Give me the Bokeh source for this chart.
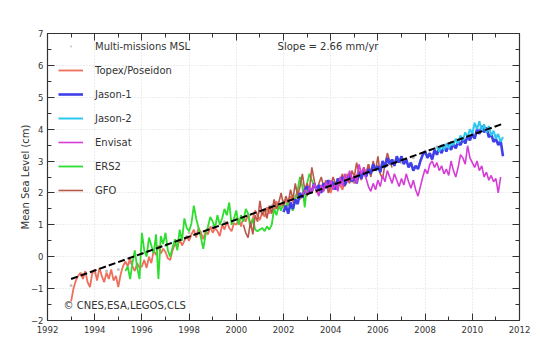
import numpy as np
from bokeh.plotting import figure
from bokeh.models import (Range1d, SingleIntervalTicker, LinearAxis, Legend, LegendItem, Label,
                          CustomJSTickFormatter)
from bokeh.embed import file_html
from bokeh.resources import INLINE

STEP = 0.1

topex_start = 1993.0
topex = [-1.40, -1.0, -0.75, -0.6, -0.5, -0.7, -0.45, -0.8, -0.95, -0.5,
         -0.4, -0.75, -0.35, -0.6, -0.8, -0.5, -0.7, -0.4, -0.75, -0.6,
         -0.95, -0.55, -0.3, -0.15, -0.3, -0.05, -0.3, -0.45, -0.2, -0.35,
         -0.3, -0.1, -0.35, 0.0, -0.2, 0.2, 0.05, 0.35, 0.1, 0.25,
         0.15, -0.05, -0.1, 0.2, 0.4, 0.3, 0.55, 0.35, 0.5, 0.65,
         0.5, 0.7, 0.85, 0.6, 0.9, 0.75, 0.55, 0.8, 0.7, 0.95,
         0.75, 0.9, 0.8, 0.65, 1.0, 0.85, 1.1, 0.9, 0.8, 1.05,
         1.0, 1.2, 0.95, 1.25, 1.1, 1.35, 1.0, 1.2, 1.45, 1.3,
         1.15, 1.4, 1.25, 1.55, 1.35, 1.6, 1.4, 1.75, 1.5, 1.65,
         1.55, 1.8, 1.6, 1.9, 1.7, 1.85, 2.05, 1.8, 1.95, 2.1,
         1.9, 2.2, 2.0, 2.3, 2.1, 1.95, 2.25, 2.05, 2.35, 2.2,
         2.0, 2.3, 2.15, 2.45, 2.25, 2.1, 2.4, 2.6, 2.35, 2.5,
         2.3, 2.55, 2.7, 2.45, 2.8, 2.6, 2.9, 2.65, 2.85]

ers2_start = 1995.3
ers2 = [-0.45, -0.3, -0.7, -0.2, 0.2, -0.35, -0.7,
        0.75, 0.2, 0.0, 0.6, 0.35, 0.1, 0.7, -0.7, 0.65, 0.4,
        0.75, 0.2, 0.0, 0.3, 0.55, 0.2, 0.85, 0.5, 1.2, 0.9,
        0.8, 1.05, 1.6, 1.2, 0.9, 0.6, 0.25, 0.7, 0.95, 1.25,
        1.1, 0.9, 1.3, 1.0, 1.2, 1.5, 1.3, 1.7, 1.0, 1.2,
        1.45, 1.0, 1.3, 1.1, 1.5, 1.35, 0.9, 1.2, 0.85, 0.8,
        0.85, 0.9, 0.8, 0.95, 0.85, 1.0, 1.5, 1.3, 1.6, 1.45,
        1.7, 1.5, 1.75, 1.55, 1.45, 1.8, 2.1, 2.5, 2.2, 1.55,
        2.3, 2.6, 2.4, 2.2]

gfo_start = 2000.3
gfo = [1.0, 0.75, 0.6, 1.1, 0.7, 1.3, 1.1,
       1.75, 1.3, 1.5, 1.2, 1.6, 1.35, 1.8, 1.5, 1.7, 2.0,
       1.6, 1.9, 1.7, 2.1, 1.8, 2.3, 1.9, 2.2, 2.6, 2.1,
       2.3, 2.1, 2.8, 2.4, 2.0, 2.3, 2.5, 2.2, 2.4, 2.0,
       2.2, 2.5, 2.3, 2.1, 2.4, 2.6, 2.2, 2.45, 2.3, 2.7,
       2.5, 2.95, 2.6, 2.4, 2.8, 2.55, 2.9, 2.5, 3.0, 2.7,
       3.15, 2.6, 2.45, 2.9, 3.25, 3.0, 2.8]

jason1_start = 2002.0
jason1 = [1.4, 1.6, 1.35, 1.7, 1.5, 1.8, 1.65, 2.0, 1.85, 2.1,
          2.2, 2.0, 2.05, 2.3, 2.1, 2.25, 2.0, 2.3, 2.15, 2.4,
          2.2, 2.35, 2.1, 2.45, 2.3, 2.5, 2.25, 2.4, 2.6, 2.35,
          2.5, 2.3, 2.65, 2.45, 2.7, 2.5, 2.75, 2.6, 2.9, 2.7,
          2.85, 2.65, 3.0, 2.8, 3.1, 2.9, 3.05, 2.85, 3.15, 2.95,
          3.15, 2.9, 3.05, 2.8, 2.95, 2.7, 2.85, 2.75, 3.0, 3.2,
          3.3, 3.1, 3.25, 3.05, 3.35, 3.2, 3.4, 3.25, 3.45, 3.3,
          3.5, 3.35, 3.55, 3.4, 3.6, 3.5, 3.7, 3.55, 3.8, 3.65,
          3.85, 3.7, 4.0, 3.85, 4.1, 3.9, 4.05, 3.75, 3.85, 3.6,
          3.7, 3.5, 3.65, 3.15]

jason2_start = 2008.5
jason2 = [3.45, 3.3, 3.5, 3.35, 3.55,
          3.4, 3.6, 3.5, 3.7, 3.55, 3.8, 3.65, 3.9, 3.75, 4.0,
          3.85, 4.2, 4.0, 4.25, 3.95, 4.15, 3.9, 4.1, 3.8, 3.95,
          3.7, 3.85, 3.6, 3.75]

envisat_start = 2002.8
envisat = [1.9, 2.1,
           1.95, 2.2, 2.0, 2.3, 2.1, 1.9, 2.25, 2.05, 2.35, 2.15,
           2.4, 2.1, 2.3, 2.05, 2.5, 2.2, 2.6, 2.35, 2.7, 2.4,
           2.55, 2.3, 2.9, 2.6, 2.8, 2.45, 2.2, 2.05, 2.3, 2.1,
           2.4, 2.2, 2.55, 2.35, 2.7, 2.5, 2.3, 2.6, 2.4, 2.2,
           2.45, 2.25, 2.6, 2.35, 2.15, 2.4, 2.1, 1.9, 2.2, 2.5,
           2.75, 2.6, 2.9, 3.0, 2.8, 2.95, 2.7, 2.85, 2.6, 2.75,
           2.55, 3.0, 2.7, 2.5, 2.8, 3.2, 3.1, 2.9, 3.48, 3.1,
           2.95, 2.8, 3.0, 2.7, 2.85, 2.5, 2.65, 2.4, 2.55, 2.35,
           2.45, 2.0, 2.5]

msl_years = [1993.0, 1993.5, 1994.0, 1994.5, 1995.0, 1995.5, 1996.0, 1996.5, 1997.0, 1997.5,
             1998.0, 1998.5, 1999.0, 1999.5, 2000.0, 2000.5, 2001.0, 2001.5, 2002.0, 2002.5,
             2003.0, 2003.5, 2004.0, 2004.5, 2005.0, 2005.5, 2006.0, 2006.5, 2007.0, 2007.5,
             2008.0, 2008.5, 2009.0, 2009.5, 2010.0, 2010.5, 2011.0]
msl = [-0.9, -0.55, -0.5, -0.45, -0.4, -0.2, 0.1, 0.15, 0.35, 0.5,
       0.75, 0.75, 0.95, 1.1, 1.2, 1.25, 1.4, 1.6, 1.75, 1.9,
       2.0, 2.15, 2.25, 2.45, 2.55, 2.7, 2.8, 3.0, 2.95, 3.1,
       3.3, 3.45, 3.45, 3.7, 3.85, 4.0, 3.8]

trend_years = [1993.0, 2011.3]
trend_vals = [-0.70, 4.17]

slope_text = "Slope = 2.66 mm/yr"
credit_text = "\u00a9 CNES,ESA,LEGOS,CLS"


def years(start, vals):
    return [start + i * STEP for i in range(len(vals))]


FONT = "DejaVu Sans"
TXT = "#333333"

p = figure(width=542, height=357, output_backend="svg", toolbar_location=None,
           x_range=Range1d(1992, 2012), y_range=Range1d(-2, 7),
           min_border_left=47, min_border_right=23, min_border_top=33, min_border_bottom=37)
p.background_fill_color = "white"
p.border_fill_color = "white"
p.outline_line_color = "#333333"
p.outline_line_width = 1.2

xt = SingleIntervalTicker(interval=2, num_minor_ticks=2)
yt = SingleIntervalTicker(interval=1, num_minor_ticks=2)
p.xaxis.ticker = xt
p.yaxis.ticker = yt
p.xgrid.ticker = xt
p.ygrid.ticker = yt
for g in (p.xgrid, p.ygrid):
    g.grid_line_color = "#dadada"
    g.grid_line_dash = "1 2"
    g.grid_line_width = 1

for ax in (p.xaxis[0], p.yaxis[0]):
    ax.major_tick_in = 7
    ax.major_tick_out = 0
    ax.minor_tick_in = 4
    ax.minor_tick_out = 0
    ax.axis_line_color = "#333333"
    ax.major_tick_line_color = "#333333"
    ax.minor_tick_line_color = "#333333"
    ax.major_label_text_font = FONT
    ax.major_label_text_font_size = "8.5px"
    ax.major_label_text_color = TXT
    ax.axis_label_text_font = FONT
    ax.axis_label_text_font_style = "normal"
    ax.axis_label_text_font_size = "10px"
    ax.axis_label_text_color = TXT
p.xaxis.major_label_standoff = 5
p.yaxis.major_label_standoff = 4
p.yaxis.axis_label = "Mean Sea Level (cm)"
p.yaxis.axis_label_standoff = -3

blank = CustomJSTickFormatter(code="return ''")
for side, tk in (("right", yt), ("above", xt)):
    ax = LinearAxis(ticker=tk, formatter=blank, major_tick_in=7, major_tick_out=0,
                    minor_tick_in=4, minor_tick_out=0,
                    axis_line_color="#333333", major_tick_line_color="#333333",
                    minor_tick_line_color="#333333", major_label_standoff=0)
    p.add_layout(ax, side)

r_msl = p.scatter(msl_years, msl, marker="dot", size=12, color="#b0b0b0", alpha=0.8)
r_topex = p.line(years(topex_start, topex), topex, line_color="#EE6F5C", line_width=1.8)
r_ers2 = p.line(years(ers2_start, ers2), ers2, line_color="#2EDD2E", line_width=1.8)
r_gfo = p.line(years(gfo_start, gfo), gfo, line_color="#B9584A", line_width=1.6)
r_j1 = p.line(years(jason1_start, jason1), jason1, line_color="#4040E8", line_width=2.6)
r_env = p.line(years(envisat_start, envisat), envisat, line_color="#D63CD6", line_width=1.6)
r_j2 = p.line(years(jason2_start, jason2), jason2, line_color="#2CC8EE", line_width=2.0)
p.line(trend_years, trend_vals, line_color="black", line_width=2, line_dash="7 3")

legend = Legend(items=[
    LegendItem(label="Multi-missions MSL", renderers=[r_msl]),
    LegendItem(label="Topex/Poseidon", renderers=[r_topex]),
    LegendItem(label="Jason-1", renderers=[r_j1]),
    LegendItem(label="Jason-2", renderers=[r_j2]),
    LegendItem(label="Envisat", renderers=[r_env]),
    LegendItem(label="ERS2", renderers=[r_ers2]),
    LegendItem(label="GFO", renderers=[r_gfo]),
], location=(11, 120))
legend.border_line_color = None
legend.background_fill_alpha = 0
legend.padding = 0
legend.margin = 0
legend.spacing = 4
legend.glyph_width = 25
legend.glyph_height = 20
legend.label_height = 20
legend.label_standoff = 12
legend.label_text_font = FONT
legend.label_text_font_size = "10px"
legend.label_text_color = TXT
p.add_layout(legend)

p.add_layout(Label(x=2001.75, y=6.58, text=slope_text, text_font=FONT, text_font_size="10px",
                   text_color=TXT, text_baseline="middle"))
p.add_layout(Label(x=1992.68, y=-1.54, text=credit_text, text_font=FONT, text_font_size="10px",
                   text_color=TXT, text_baseline="middle"))

open("out.html", "w").write(file_html(p, INLINE))
